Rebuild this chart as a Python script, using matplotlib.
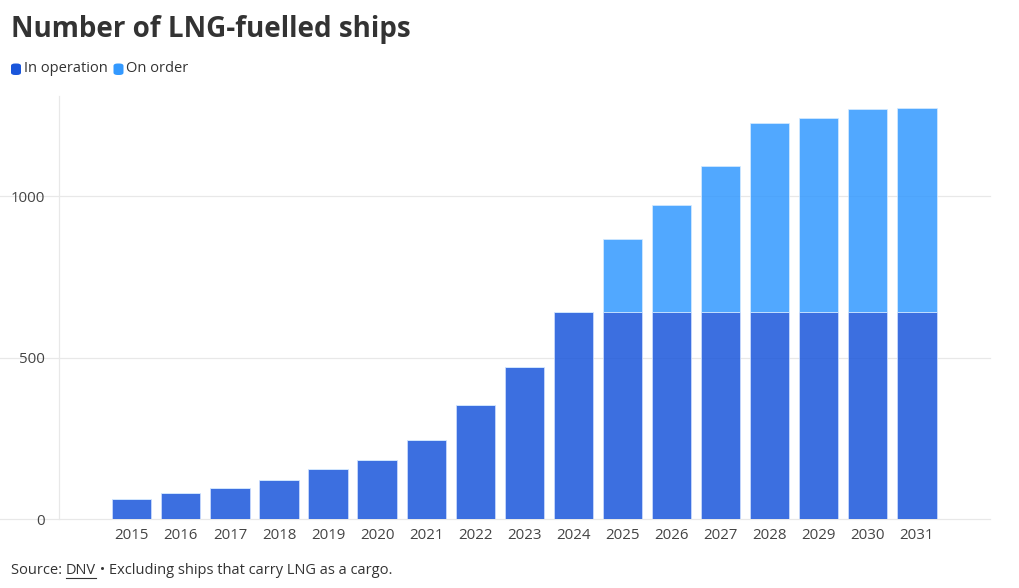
import matplotlib.pyplot as plt
from matplotlib.patches import FancyBboxPatch
from matplotlib.lines import Line2D

years = ["2015", "2016", "2017", "2018", "2019", "2020", "2021", "2022",
         "2023", "2024", "2025", "2026", "2027", "2028", "2029", "2030", "2031"]
in_operation = [62, 80, 97, 123, 155, 185, 246, 353, 472, 641,
                641, 641, 641, 641, 641, 641, 641]
on_order = [0, 0, 0, 0, 0, 0, 0, 0, 0, 0,
            228, 331, 453, 584, 601, 629, 632]

c_op = "#1a56db"
c_order = "#3399ff"
txt = "#333333"
plt.rcParams['font.family'] = ['Open Sans', 'DejaVu Sans']

fig = plt.figure(figsize=(10.2, 5.88), dpi=100)
ax = fig.add_axes([0.0575, 0.1168, 0.9131, 0.7199])

x = list(range(len(years)))
ax.bar(x, in_operation, width=0.8, color=c_op, alpha=0.85,
       edgecolor="#cfe0ff", linewidth=0.6, zorder=3)
ax.bar(x, on_order, width=0.8, bottom=in_operation, color=c_order, alpha=0.85,
       edgecolor="#d6ebff", linewidth=0.6, zorder=3)

ax.set_xlim(-1.49, 17.49)
ax.set_ylim(0, 1310)
ax.set_xticks(x)
ax.set_xticklabels(years)
ax.set_yticks([0, 500, 1000])
ax.set_yticklabels(["0", "500", "1000"])
ax.tick_params(axis='both', length=0, labelsize=10.8, labelcolor="#444444")
ax.tick_params(axis='y', pad=10)
ax.tick_params(axis='x', pad=6)
for yv in [0, 500, 1000]:
    ax.add_line(Line2D([-0.12, 1.0], [yv, yv], transform=ax.get_yaxis_transform(),
                       color="#e8e8e8", linewidth=0.9, clip_on=False, zorder=1))
for s in ["top", "right", "bottom"]:
    ax.spines[s].set_visible(False)
ax.spines["left"].set_color("#e8e8e8")
ax.spines["left"].set_linewidth(0.9)
ax.spines["left"].set_zorder(1)

fig.text(11 / 1020, 1 - 30 / 588, "Number of LNG-fuelled ships", fontsize=20,
         fontweight="bold", color=txt, va="center", ha="left")

# legend
for lx, label, col in [(11, "In operation", c_op), (113.5, "On order", c_order)]:
    fig.patches.append(FancyBboxPatch((lx / 1020, 1 - 75 / 588), 10 / 1020, 11.5 / 588,
                                      boxstyle="round,pad=0,rounding_size=0.004",
                                      transform=fig.transFigure, color=col, linewidth=0))
    fig.text((lx + 13) / 1020, 1 - 69 / 588, label, fontsize=10.5, color=txt,
             va="center", ha="left")

# footer with underlined DNV
fig.canvas.draw()
r = fig.canvas.get_renderer()
t1 = fig.text(11 / 1020, 1 - 570 / 588, "Source: ", fontsize=10.5, color=txt,
              va="center", ha="left")
e1 = t1.get_window_extent(r)
t2 = fig.text(e1.x1 / 1020, 1 - 570 / 588, "DNV", fontsize=10.5, color=txt,
              va="center", ha="left")
e2 = t2.get_window_extent(r)
fig.add_artist(Line2D([e2.x0 / 1020, e2.x1 / 1020], [1 - 578 / 588, 1 - 578 / 588],
                      transform=fig.transFigure, color=txt, linewidth=0.8))
fig.text(e2.x1 / 1020, 1 - 570 / 588, " \u2022 Excluding ships that carry LNG as a cargo.",
         fontsize=10.5, color=txt, va="center", ha="left")

fig.savefig("out.png", dpi=100)
